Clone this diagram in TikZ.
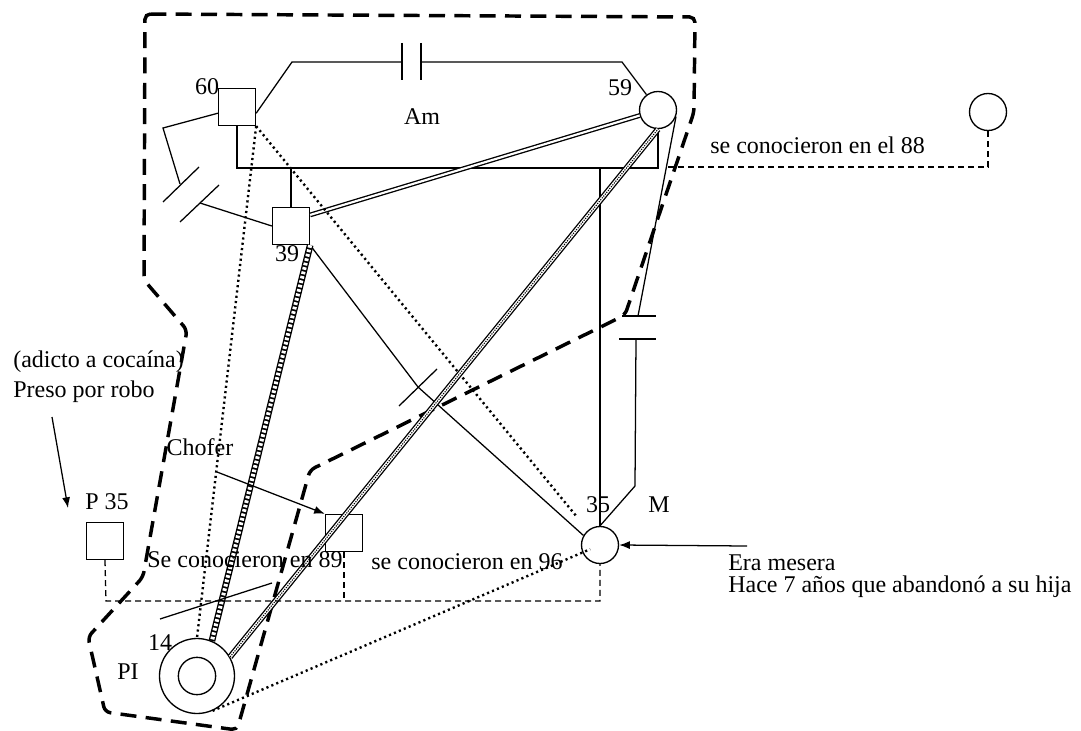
\documentclass[tikz,border=0pt]{standalone}
\usepackage{fontspec}
\setmainfont{Liberation Serif}
\usetikzlibrary{arrows.meta,calc}
\begin{document}
\begin{tikzpicture}[x=0.75pt,y=-0.75pt,
  ln/.style={line width=0.95pt},
  txt/.style={inner sep=0pt, font=\fontsize{18}{22}\selectfont},
  sq/.style={draw, line width=1pt, minimum size=27.75pt, inner sep=0pt},
  circ/.style={draw, circle, line width=1pt, minimum size=27.75pt, inner sep=0pt},
  hh/.style={line width=2.6pt, dash pattern=on 12pt off 7pt, rounded corners=4pt},
  par/.style={line width=0.95pt, dash pattern=on 4.5pt off 3pt},
  dots/.style={line width=1.8pt, dash pattern=on 1.6pt off 2.4pt},
  arr/.style={line width=0.95pt, -{Latex[length=8pt,width=6pt]}},
  dbl/.style={double, double distance=1.6pt, line width=1pt},
  ladder/.style={line width=5pt, postaction={draw=white, line width=3pt, dash pattern=on 2pt off 1.4pt}},
  hatched/.style={line width=4.4pt, postaction={draw=white, line width=2.4pt}, postaction={draw=black, line width=0.8pt, dash pattern=on 0.9pt off 0.9pt}},
]
\path[use as bounding box] (0,0) rectangle (1081,731);

% people
\node[sq] (n60) at (237,107) {};
\node[sq] (n39) at (291,226) {};
\node[circ] (n59) at (658,110) {};
\node[circ] (nR) at (988,112) {};
\node[circ] (nM) at (600,545) {};
\node[sq] (nC) at (344,533) {};
\node[sq] (nP) at (105,541) {};
\node[circ, minimum size=56.25pt] (nPI) at (197,676) {};
\node[circ, minimum size=28pt] (nPIin) at (197,676) {};

% coordinates
\coordinate (a1) at (292,62);
\coordinate (a2) at (402,62);
\coordinate (a3) at (421,62);
\coordinate (a4) at (622,62);
\coordinate (b1) at (163,128);
\coordinate (b2) at (180,184);
\coordinate (b3) at (200,203);
\coordinate (c1) at (237,168);
\coordinate (c2) at (658,168);
\coordinate (c3) at (291,168);
\coordinate (c4) at (600,168);
\coordinate (s1) at (418,387);
\coordinate (m1) at (635,486);
\coordinate (m2) at (636,339);
\coordinate (m3) at (638,316);
\coordinate (p1) at (106,601);
\coordinate (p2) at (600,601);
\coordinate (p3) at (344,601);
\coordinate (r1) at (988,167);
\coordinate (r2) at (668,167);
\coordinate (q1) at (160,619);
\coordinate (q2) at (272,583);
\coordinate (w1) at (52,417);
\coordinate (w2) at (68,508);
\coordinate (w3) at (217,472);
\coordinate (w4) at (747,546);

% household boundary
\draw[hh] (145,14) -- (695,17) -- (694,112) -- (625,315) -- (310,470) -- (237,730)
  -- (105,712) -- (88,637) -- (143,577) -- (187,330) -- (144,280) -- cycle;

% top separated marriage 60 - 59
\draw[ln] (n60.-18) -- (a1) -- (a2);
\draw[ln] (a3) -- (a4) -- (n59);
\draw[ln] (402,43) -- (402,80);
\draw[ln] (421,43) -- (421,80);

% divorce 60 - 39
\draw[ln] (n60.198) -- (b1) -- (b2);
\draw[ln] (163,202) -- (199,167);
\draw[ln] (180,222) -- (219,185);
\draw[ln] (b3) -- (n39.west);

% sibship line
\draw[ln] (n60.south) -- (c1) -- (c2) -- (n59.south);
\draw[ln] (c3) -- (n39.north);
\draw[ln] (c4) -- (nM.north);

% relationship lines
\draw[dbl] (n39.30) -- (n59);
\draw[ln] (n39.south east) -- (s1) -- (nM.150);
\draw[ln] (437,369) -- (399,406);
\draw[ln] (nM.north) -- (m1) -- (m2);
\draw[ln] (m3) -- (n59.-20);
\draw[ln] (619,339) -- (656,339);
\draw[ln] (622,316) -- (656,316);

\draw[dots] (n60.south east) -- (nPI.north);
\draw[dots, shorten >=14pt] (n60.south east) -- (nM);
\draw[dots, shorten >=8pt] (nPI.-66) -- (nM.center);

\draw[ladder] (n39.south east) -- (nPI.67);
\draw[hatched] (nPI.30) -- (n59.south);

% parental dashed lines
\draw[par] (nP.south) -- (p1) -- (p2) -- (nM.south);
\draw[par] (nC.south) -- (p3);
\draw[par] (nR.south) -- (r1) -- (r2);

% pointer and arrows
\draw[ln] (q1) -- (q2);
\draw[arr] (w1) -- (w2);
\draw[arr] (w3) -- (nC.north west);
\draw[arr] (w4) -- (nM.east);

% texts
\node[txt] (t60) at (207,87) {60};
\node[txt] (tAm) at (422,117) {Am};
\node[txt] (t59) at (620,88) {59};
\node[txt] (t39) at (287,254) {39};
\node[txt, anchor=base west] (t88) at (710,154) {se conocieron en el 88};
\node[txt, anchor=base west] (tadi) at (13,367) {(adicto a cocaína)};
\node[txt, anchor=base west] (tpre) at (13,397) {Preso por robo};
\node[txt] (tP35) at (107,502) {P 35};
\node[txt] (tcho) at (200,447) {Chofer};
\node[txt] (t89) at (245,560) {Se conocieron en 89};
\node[txt] (t96) at (467,562) {se conocieron en 96};
\node[txt] (t35) at (598,505) {35};
\node[txt] (tM) at (659,505) {M};
\node[txt] (t14) at (160,643) {14};
\node[txt] (tPI) at (128,672) {PI};
\node[txt, anchor=base west] (tera) at (728,570) {Era mesera};
\node[txt, anchor=base west] (thac) at (728,592) {Hace 7 años que abandonó a su hija};
\end{tikzpicture}
\end{document}
